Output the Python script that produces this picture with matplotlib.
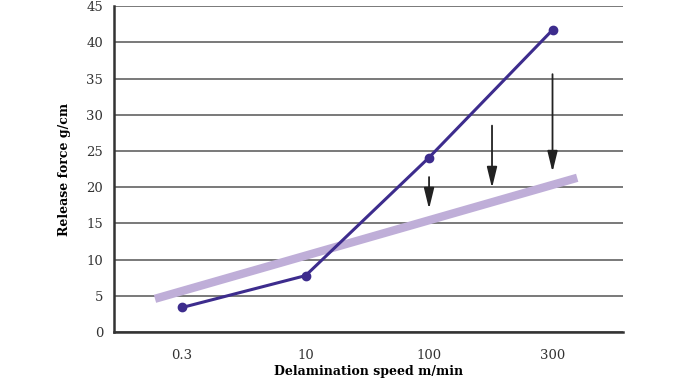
import matplotlib.pyplot as plt

speeds = ['0.3', '10', '100', '300']
release_force = [3.4, 7.8, 24.1, 41.7]

# thick reference line (start/end)
ref_x = [-0.22, 3.2]
ref_y = [4.6, 21.3]

# arrows: x position, start, end
arrow_x = [2.0, 2.51, 3.0]
arrow_top = [21.4, 28.5, 35.6]
arrow_tip = [17.0, 19.9, 22.1]

plt.rcParams['font.family'] = ['DejaVu Serif', 'Liberation Serif']

fig = plt.figure(figsize=(6.8, 3.8), dpi=100)
ax = fig.add_axes([0.168, 0.126, 0.748, 0.858])

ax.set_ylim(0, 45)
ax.set_xlim(-0.55, 3.57)
ax.set_yticks(range(0, 50, 5))
ax.set_xticks(range(len(speeds)))
ax.set_xticklabels(speeds)
ax.yaxis.grid(True, color='#555555', linewidth=1.1)
ax.set_axisbelow(True)
ax.tick_params(length=0, labelsize=9.5, colors='#333333')
ax.tick_params(axis='x', pad=12)
ax.tick_params(axis='y', pad=8)

for s in ['top', 'right']:
    ax.spines[s].set_visible(False)
for s in ['left', 'bottom']:
    ax.spines[s].set_linewidth(1.8)
    ax.spines[s].set_color('#333333')

ax.plot(ref_x, ref_y, color='#bfaed8', linewidth=6, solid_capstyle='butt', zorder=2)
ax.plot(range(len(speeds)), release_force, color='#3d2c8d', linewidth=2.2,
        marker='o', markersize=6, zorder=3)

for x, y0, y1 in zip(arrow_x, arrow_top, arrow_tip):
    ax.annotate('', xy=(x, y1), xytext=(x, y0),
                arrowprops=dict(arrowstyle='-|>,head_length=0.9,head_width=0.22',
                                color='#222222', lw=1.3,
                                mutation_scale=14, shrinkA=0, shrinkB=0))

ax.set_ylabel('Release force g/cm', fontsize=9, fontweight='bold', labelpad=11)
ax.set_xlabel('Delamination speed m/min', fontsize=9, fontweight='bold')
ax.xaxis.set_label_coords(0.5, -0.1)

fig.savefig('out.png', dpi=100)
